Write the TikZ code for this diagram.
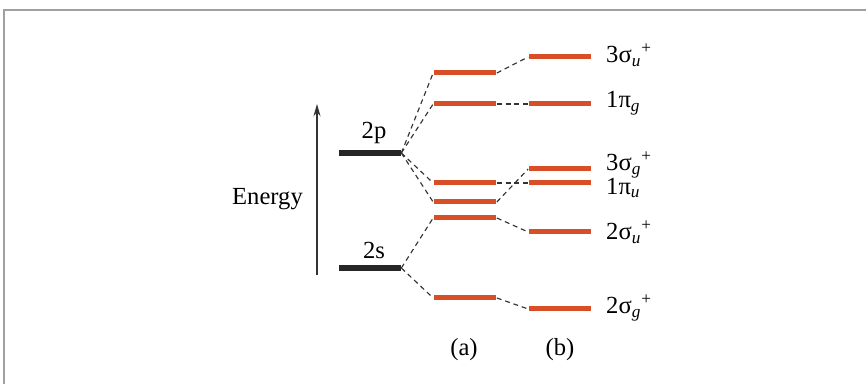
\documentclass[tikz,border=0pt]{standalone}
\usepackage{amsmath}
\usepackage{fontspec}
\setmainfont{Liberation Serif}
\usetikzlibrary{arrows.meta}
\definecolor{levelred}{RGB}{216,78,38}
\definecolor{framegray}{RGB}{160,160,160}

\begin{document}
\begin{tikzpicture}[x=0.02cm, y=-0.02cm,
  every node/.style={font=\fontsize{14}{16}\selectfont},
  atom/.style={fill=black!85, inner sep=0pt, minimum width=1.24cm, minimum height=0.11cm},
  mo/.style={fill=levelred, inner sep=0pt, minimum width=1.26cm, minimum height=0.1cm},
  link/.style={line width=0.65pt, black!80, dash pattern=on 2.8pt off 2.2pt}]
\useasboundingbox (0,0) rectangle (866,384);
\draw[framegray, line width=1.2pt] (866,10) -- (4,10) -- (4,384);
% energy axis
\coordinate (elow) at (317,275);
\coordinate (ehigh) at (317,104);
\draw[-{Stealth[length=7pt,width=4pt]}, line width=0.6pt, black!80] (elow) -- (ehigh);
\node[anchor=east] (energy) at (309,199) {Energy};
% atomic levels
\node[atom] (p2) at (370,153) {};
\node[atom] (s2) at (370,268) {};
\node (p2lab) at (374,133) {2p};
\node (s2lab) at (374,250) {2s};
% column (a)
\node[mo] (a1) at (465,73) {};
\node[mo] (a2) at (465,104) {};
\node[mo] (a3) at (465,183) {};
\node[mo] (a4) at (465,202) {};
\node[mo] (a5) at (465,218) {};
\node[mo] (a6) at (465,298) {};
% column (b)
\node[mo] (b1) at (560,57) {};
\node[mo] (b2) at (560,104) {};
\node[mo] (b3) at (560,169) {};
\node[mo] (b4) at (560,183) {};
\node[mo] (b5) at (560,232) {};
\node[mo] (b6) at (560,309) {};
% labels
\node[anchor=west] (l1) at (600,55) {3σ$_{\textit{u}}{}^{\textup{+}}$};
\node[anchor=west] (l2) at (600,103) {1π$_{\textit{g}}$};
\node[anchor=west] (l3) at (600,165) {3σ$_{\textit{g}}{}^{\textup{+}}$};
\node[anchor=west] (l4) at (600,188) {1π$_{\textit{u}}$};
\node[anchor=west] (l5) at (600,232) {2σ$_{\textit{u}}{}^{\textup{+}}$};
\node[anchor=west] (l6) at (600,308) {2σ$_{\textit{g}}{}^{\textup{+}}$};
\node (cola) at (464,350) {(a)};
\node (colb) at (560,350) {(b)};
% correlation lines
\draw[link] (p2.east) -- (a1.west);
\draw[link] (p2.east) -- (a2.west);
\draw[link] (p2.east) -- (a3.west);
\draw[link] (p2.east) -- (a4.west);
\draw[link] (s2.east) -- (a5.west);
\draw[link] (s2.east) -- (a6.west);
\draw[link] (a1.east) -- (b1.west);
\draw[link] (a2.east) -- (b2.west);
\draw[link] (a3.east) -- (b4.west);
\draw[link] (a4.east) -- (b3.west);
\draw[link] (a5.east) -- (b5.west);
\draw[link] (a6.east) -- (b6.west);
\end{tikzpicture}
\end{document}
